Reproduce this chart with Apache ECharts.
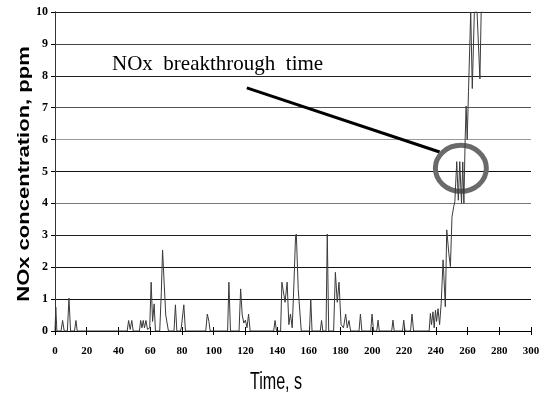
<!DOCTYPE html>
<html>
<head>
<meta charset="utf-8">
<script src="https://cdn.jsdelivr.net/npm/echarts@6/dist/echarts.min.js"></script>
<style>html,body{margin:0;padding:0;background:#fff;}#c{width:545px;height:396px;}</style>
</head>
<body>
<div id="c"></div>
<script>
// Time, s
const times = [
  0, 0.5, 1.2, 3.8, 4.8, 5.8, 7.8, 8.8, 9.8, 12.3, 13.2, 14,
  45.5, 46.4, 47.4, 48.4, 49.3, 53.2, 54, 54.8, 55.6, 56.4, 57.3, 58.3, 59.7, 60.6, 61.5, 62.5, 63.3,
  66, 67, 67.8, 68.8, 69.8, 70.6, 71.5, 75, 75.9, 76.8, 79, 79.6, 80.3, 81.2, 82.2, 95, 96, 97, 97.8,
  108.8, 109.6, 110.6, 116, 117, 118, 119, 120, 121, 122, 123,
  137.8, 138.7, 139.6, 142.2, 143, 145, 146.3, 147.4, 148.4, 149.5, 150.6, 151.6, 152.1, 153.3, 155.2,
  160.4, 161.2, 162, 167.2, 168, 168.8, 170.8, 171.6, 172.5, 175.6, 176.7, 177.9, 179, 180.3, 181.8, 183.2, 184.2, 185.3, 186.3,
  191.6, 192.5, 193.4, 199, 199.8, 200.8, 202.8, 203.6, 204.4, 212.2, 213, 213.8, 219, 219.8, 220.6, 224.1, 225, 226,
  235.8, 236.6, 237.3, 238.2, 239, 239.8, 240.5, 241.4, 242.4, 243.4, 244.6, 246, 246.9, 248.2, 249.2, 250.2, 251.3, 252,
  253.2, 254.2, 255.1, 256.2, 257, 257.7, 258.5, 259.1, 259.8, 260.6, 262, 263, 264.3, 266, 266.9, 267.8, 268.6, 269.5
];
// NOx concentration, ppm
const values = [
  0, 0.75, 0, 0, 0.33, 0, 0, 1.03, 0, 0, 0.33, 0,
  0, 0.33, 0.05, 0.33, 0, 0, 0.33, 0.1, 0.33, 0.1, 0.33, 0.05, 0.1, 1.53, 0.3, 0.85, 0,
  0, 1.2, 2.54, 1.5, 0.5, 0.45, 0, 0, 0.82, 0, 0, 0.1, 0.1, 0.82, 0, 0, 0.53, 0.3, 0,
  0, 1.53, 0, 0, 1.32, 0.5, 0.25, 0.34, 0.1, 0.53, 0,
  0, 0.33, 0, 0, 1.53, 0.9, 1.53, 0.2, 0.53, 0.1, 1.5, 2.95, 3.04, 1.3, 0,
  0, 1.0, 0, 0, 0.33, 0, 0, 3.04, 0, 0, 1.84, 0.9, 1.53, 0.2, 0.1, 0.53, 0.1, 0.33, 0,
  0, 0.53, 0, 0, 0.53, 0, 0, 0.34, 0, 0, 0.34, 0, 0, 0.34, 0, 0, 0.53, 0,
  0, 0.55, 0.2, 0.6, 0.1, 0.65, 0.3, 0.7, 0.2, 0.87, 2.23, 0.76, 3.17, 2.44, 2.02, 3.58, 3.9, 4.05,
  5.31, 4.1, 5.31, 4.0, 5.3, 4.0, 6.0, 7.05, 6.0, 7.5, 10, 7.6, 10, 10, 10, 7.9, 10, 10
];
const xTicks = [0, 20, 40, 60, 80, 100, 120, 140, 160, 180, 200, 220, 240, 260, 280, 300];
const yTicks = [0, 1, 2, 3, 4, 5, 6, 7, 8, 9, 10];
const annotationText = 'NOx  breakthrough  time';
const xName = 'Time, s';
const yName = 'NOx concentration, ppm';

const chart = echarts.init(document.getElementById('c'), null, {renderer: 'canvas'});
const data = times.map((t, i) => [t, values[i]]);
const gridColors = ['#000', '#111', '#111', '#222', '#777', '#111', '#999', '#555', '#222', '#444', '#222'];
const serif = 'Liberation Serif, Times New Roman, serif';

chart.setOption({
  animation: false,
  backgroundColor: '#fff',
  grid: {left: 55, right: 14, top: 12, bottom: 65, containLabel: false},
  xAxis: [{
    type: 'value', min: xTicks[0], max: xTicks[xTicks.length - 1], interval: 20,
    axisLine: {show: true, lineStyle: {color: '#000', width: 1}},
    axisTick: {show: true, length: 4, inside: false, lineStyle: {color: '#000'}},
    axisLabel: {fontFamily: serif, fontWeight: 'bold', fontSize: 11, color: '#000', margin: 15},
    splitLine: {show: false}
  }, {
    type: 'value', position: 'bottom', min: xTicks[0], max: xTicks[xTicks.length - 1], interval: 20,
    axisLine: {show: false},
    axisTick: {show: true, length: 4, inside: true, lineStyle: {color: '#000'}},
    axisLabel: {show: false},
    splitLine: {show: false}
  }],
  yAxis: [{
    type: 'value', min: yTicks[0], max: yTicks[yTicks.length - 1], interval: 1,
    axisLine: {show: true, lineStyle: {color: '#222', width: 1}},
    axisTick: {show: true, length: 4, inside: false, lineStyle: {color: '#000'}},
    axisLabel: {fontFamily: serif, fontWeight: 'bold', fontSize: 12, color: '#000', margin: 7},
    splitLine: {show: true, showMinLine: true, showMaxLine: true, lineStyle: {color: gridColors, width: 1.2}}
  }, {
    type: 'value', position: 'right', min: 0, max: 10, interval: 1,
    axisLine: {show: true, lineStyle: {color: '#333', width: 1}},
    axisTick: {show: false}, axisLabel: {show: false}, splitLine: {show: false}
  }],
  series: [{
    type: 'line', xAxisIndex: 0, yAxisIndex: 0, data: data,
    showSymbol: false, symbol: 'none', clip: true,
    lineStyle: {color: '#3a3a3a', width: 1}
  }]
});

const p = (t, v) => chart.convertToPixel({xAxisIndex: 0, yAxisIndex: 0}, [t, v]);
const lineStart = p(120.9, 7.62);
const lineEnd = p(242.4, 5.61);
const circ = p(255.8, 5.1);

chart.setOption({
  graphic: [
    {type: 'text', left: 112, top: 54, style: {text: annotationText, font: '21px ' + serif, fill: '#000'}},
    {type: 'line', shape: {x1: lineStart[0], y1: lineStart[1], x2: lineEnd[0], y2: lineEnd[1]}, style: {stroke: '#000', lineWidth: 3}},
    {type: 'ellipse', shape: {cx: circ[0], cy: circ[1], rx: 25.5, ry: 23}, style: {fill: 'none', stroke: '#6a6a6a', lineWidth: 5}},
    {type: 'text', x: 276, y: 383, scaleX: 0.7, style: {text: xName, font: '23px Liberation Sans, Arial, sans-serif', fill: '#000', align: 'center', verticalAlign: 'middle'}},
    {type: 'text', x: 25, y: 174, rotation: Math.PI / 2, scaleY: 0.72, style: {text: yName, font: 'bold 22px Liberation Sans, Arial, sans-serif', fill: '#000', align: 'center', verticalAlign: 'middle'}}
  ]
});
</script>
</body>
</html>
